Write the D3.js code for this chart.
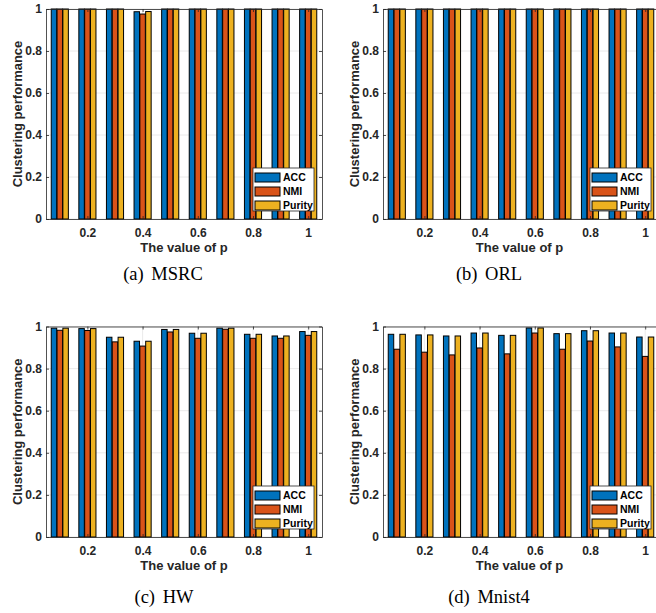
<!DOCTYPE html>
<html>
<head>
<meta charset="utf-8">
<script src="https://cdn.jsdelivr.net/npm/d3@7"></script>
<style>
  body { margin: 0; background: #fff; }
  svg { display: block; }
</style>
</head>
<body>
<div id="fig"></div>
<script>
// values of p and the three metrics
const pValues = [0.1, 0.2, 0.3, 0.4, 0.5, 0.6, 0.7, 0.8, 0.9, 1.0];
const metricNames = ["ACC", "NMI", "Purity"];
const metricColors = ["#0072BD", "#D95319", "#EDB120"];
const yTickValues = [0, 0.2, 0.4, 0.6, 0.8, 1];
const xTickValues = [0.2, 0.4, 0.6, 0.8, 1];

const msrcACC = [1, 1, 1, 0.987, 1, 1, 1, 1, 1, 1];
const msrcNMI = [1, 1, 1, 0.976, 1, 1, 1, 1, 1, 1];
const msrcPurity = [1, 1, 1, 0.988, 1, 1, 1, 1, 1, 1];

const orlACC = [1, 1, 1, 1, 1, 1, 1, 1, 1, 1];
const orlNMI = [1, 1, 1, 1, 1, 1, 1, 1, 1, 1];
const orlPurity = [1, 1, 1, 1, 1, 1, 1, 1, 1, 1];

const hwACC = [0.992, 0.99, 0.949, 0.93, 0.986, 0.968, 0.992, 0.963, 0.955, 0.976];
const hwNMI = [0.982, 0.981, 0.927, 0.907, 0.974, 0.944, 0.987, 0.944, 0.944, 0.958];
const hwPurity = [0.992, 0.99, 0.949, 0.93, 0.986, 0.968, 0.992, 0.963, 0.955, 0.976];

const mnistACC = [0.963, 0.96, 0.955, 0.969, 0.958, 0.993, 0.966, 0.98, 0.969, 0.95];
const mnistNMI = [0.892, 0.878, 0.865, 0.898, 0.87, 0.969, 0.892, 0.931, 0.903, 0.858];
const mnistPurity = [0.963, 0.96, 0.955, 0.969, 0.958, 0.993, 0.966, 0.98, 0.969, 0.95];

const width = 656, height = 613;
const svg = d3.select("#fig").append("svg")
    .attr("width", width)
    .attr("height", height)
    .attr("viewBox", [0, 0, width, height]);

const panels = [
    { caption: "(a) MSRC", series: [msrcACC, msrcNMI, msrcPurity],
      left: 46, right: 322, top: 9, bottom: 219, capX: 163, capY: 280 },
    { caption: "(b) ORL", series: [orlACC, orlNMI, orlPurity],
      left: 383, right: 659, top: 9, bottom: 219, capX: 489, capY: 280 },
    { caption: "(c) HW", series: [hwACC, hwNMI, hwPurity],
      left: 46, right: 322, top: 326.5, bottom: 537, capX: 164, capY: 603 },
    { caption: "(d) Mnist4", series: [mnistACC, mnistNMI, mnistPurity],
      left: 383, right: 659, top: 326.5, bottom: 537, capX: 489, capY: 603 },
];

const sansFont = "'Liberation Sans', Arial, Helvetica, sans-serif";
const serifFont = "'Liberation Serif', 'Times New Roman', serif";

function drawPanel(cfg) {
    const g = svg.append("g");
    const x = d3.scaleLinear().domain([0.05, 1.05]).range([cfg.left, cfg.right]);
    const y = d3.scaleLinear().domain([0, 1]).range([cfg.bottom, cfg.top]);

    const groupW = (x(0.2) - x(0.1)) * 0.62;
    const xSub = d3.scaleBand()
        .domain(metricNames)
        .range([-groupW / 2, groupW / 2])
        .paddingInner(0.06);

    // grid
    g.append("g").selectAll("line")
        .data(yTickValues)
        .join("line")
        .attr("x1", cfg.left).attr("x2", cfg.right)
        .attr("y1", (d) => y(d)).attr("y2", (d) => y(d))
        .attr("stroke", "#e4e4e4").attr("stroke-width", 0.8);
    g.append("g").selectAll("line")
        .data(xTickValues)
        .join("line")
        .attr("x1", (d) => x(d)).attr("x2", (d) => x(d))
        .attr("y1", cfg.top).attr("y2", cfg.bottom)
        .attr("stroke", "#e4e4e4").attr("stroke-width", 0.8);

    // bars
    const rows = metricNames.flatMap((m, i) =>
        pValues.map((p, j) => ({ metric: m, idx: i, p, value: cfg.series[i][j] }))
    );
    g.append("g").selectAll("rect")
        .data(rows)
        .join("rect")
        .attr("x", (d) => x(d.p) + xSub(d.metric))
        .attr("y", (d) => y(d.value))
        .attr("width", xSub.bandwidth())
        .attr("height", (d) => y(0) - y(d.value))
        .attr("fill", (d) => metricColors[d.idx])
        .attr("stroke", "#000")
        .attr("stroke-width", 1);

    // axes (ticks inward, box on)
    const fmt = d3.format("~g");
    const axB = g.append("g")
        .attr("transform", `translate(0,${cfg.bottom})`)
        .call(d3.axisBottom(x).tickValues(xTickValues).tickSizeInner(-3)
            .tickSizeOuter(0).tickPadding(9).tickFormat(fmt));
    const axT = g.append("g")
        .attr("transform", `translate(0,${cfg.top})`)
        .call(d3.axisTop(x).tickValues(xTickValues).tickSizeInner(-3)
            .tickSizeOuter(0).tickFormat(""));
    const axL = g.append("g")
        .attr("transform", `translate(${cfg.left},0)`)
        .call(d3.axisLeft(y).tickValues(yTickValues).tickSizeInner(-3)
            .tickSizeOuter(0).tickPadding(4).tickFormat(fmt));
    const axR = g.append("g")
        .attr("transform", `translate(${cfg.right},0)`)
        .call(d3.axisRight(y).tickValues(yTickValues).tickSizeInner(-3)
            .tickSizeOuter(0).tickFormat(""));

    [axB, axT, axL, axR].forEach((a) => {
        a.selectAll("path, line").attr("stroke", "#262626").attr("stroke-width", 0.8);
        a.selectAll("text")
            .attr("fill", "#262626")
            .style("font-family", sansFont)
            .style("font-weight", "bold")
            .style("font-size", "12px");
    });

    // axis labels
    g.append("text")
        .attr("x", (cfg.left + cfg.right) / 2 - (cfg.right > width ? 1.5 : 0))
        .attr("y", cfg.bottom + 33)
        .attr("text-anchor", "middle")
        .attr("fill", "#262626")
        .style("font-family", sansFont)
        .style("font-weight", "bold")
        .style("font-size", "13px")
        .text("The value of p");
    g.append("text")
        .attr("transform", `translate(${cfg.left - 24},${(cfg.top + cfg.bottom) / 2}) rotate(-90)`)
        .attr("text-anchor", "middle")
        .attr("fill", "#262626")
        .style("font-family", sansFont)
        .style("font-weight", "bold")
        .style("font-size", "13px")
        .text("Clustering performance");

    // legend
    const lw = 61, lh = 43;
    const lx = Math.min(cfg.right, width + 3) - 8 - lw;
    const ly = cfg.bottom - 8 - lh;
    const lg = g.append("g").attr("transform", `translate(${lx},${ly})`);
    lg.append("rect")
        .attr("width", lw).attr("height", lh)
        .attr("fill", "#fff").attr("stroke", "#262626").attr("stroke-width", 0.8);
    const item = lg.selectAll("g.item")
        .data(metricNames)
        .join("g")
        .attr("class", "item")
        .attr("transform", (d, i) => `translate(2,${9.5 + i * 14})`);
    item.append("rect")
        .attr("x", 0).attr("y", -4.5)
        .attr("width", 25).attr("height", 9)
        .attr("fill", (d, i) => metricColors[i])
        .attr("stroke", "#000").attr("stroke-width", 1);
    item.append("text")
        .attr("x", 28).attr("dy", "0.36em")
        .attr("fill", "#000")
        .style("font-family", sansFont)
        .style("font-weight", "bold")
        .style("font-size", "10.5px")
        .text((d) => d);

    // caption
    svg.append("text")
        .attr("x", cfg.capX)
        .attr("y", cfg.capY)
        .attr("text-anchor", "middle")
        .attr("fill", "#000")
        .style("font-family", serifFont)
        .style("font-size", "18.5px")
        .style("word-spacing", "3px")
        .text(cfg.caption);
}

panels.forEach(drawPanel);
</script>
</body>
</html>
